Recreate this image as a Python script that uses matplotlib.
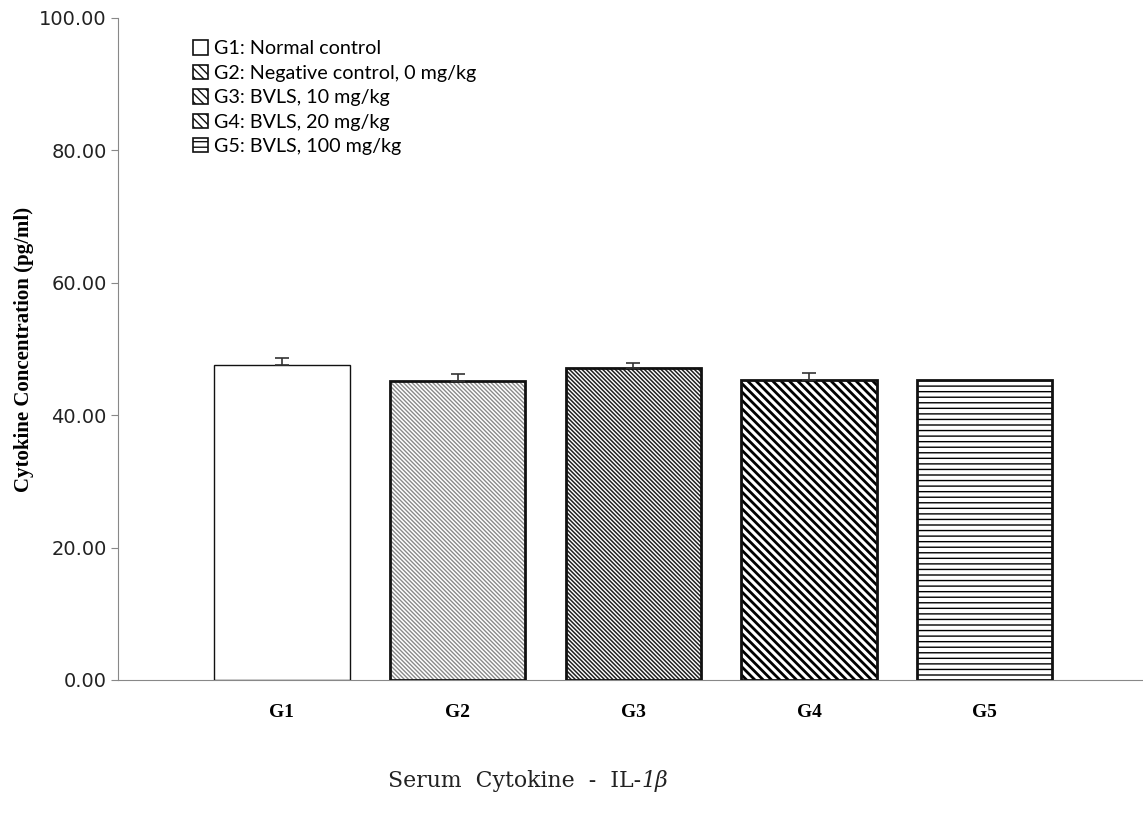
import matplotlib
matplotlib.use('Agg')
import matplotlib.pyplot as plt
from matplotlib.patches import Patch

# Data
groups = ['G1', 'G2', 'G3', 'G4', 'G5']
means = [47.6, 45.2, 47.1, 45.3, 45.3]
errors = [1.0, 1.0, 0.8, 1.1, 0.0]
legend_labels = ['G1: Normal control', 'G2: Negative control, 0 mg/kg',
                 'G3: BVLS, 10 mg/kg', 'G4: BVLS, 20 mg/kg', 'G5: BVLS, 100 mg/kg']
y_ticks = [0, 20, 40, 60, 80, 100]

# Bar styles: (hatch, hatch colour, hatch linewidth, edge width)
styles = [
    ('', '#000000', 1.0, 1.0),
    ('\\' * 8, '#8a8a8a', 1.0, 2.0),
    ('\\' * 8, '#202020', 1.1, 2.0),
    ('\\' * 4, '#000000', 2.0, 2.0),
    ('---', '#000000', 1.0, 2.0),
]


def main():
    fig = plt.figure(figsize=(11.43, 8.24), dpi=100)
    ax = fig.add_axes([0.1032, 0.1748, 0.8968, 0.8034])

    x = list(range(len(groups)))
    for i, (h, hc, hlw, elw) in enumerate(styles):
        with plt.rc_context({'hatch.linewidth': hlw}):
            b = ax.bar(x[i], means[i], width=0.77, color='white', edgecolor=hc,
                       hatch=h, linewidth=0, zorder=2)
        for p in b:
            if hasattr(p, 'set_hatch_linewidth'):
                p.set_hatch_linewidth(hlw)
        ax.bar(x[i], means[i], width=0.77, facecolor='none', edgecolor='#111111',
               linewidth=elw, zorder=3)
        if errors[i] > 0:
            ax.errorbar(x[i], means[i], yerr=[[0], [errors[i]]], fmt='none',
                        ecolor='#333333', elinewidth=1.2, capsize=5, capthick=1.2, zorder=4)

    ax.set_xlim(-0.933, 4.9)
    ax.set_ylim(0, 100)
    ax.set_yticks(y_ticks)
    ax.set_yticklabels([f'{v:.2f}' for v in y_ticks], fontsize=14,
                       family='DejaVu Sans', color='#222222')
    ax.set_xticks(x)
    ax.set_xticklabels(groups, fontsize=14, family='Liberation Serif',
                       fontweight='bold')
    ax.tick_params(axis='x', length=0, pad=17)
    ax.tick_params(axis='y', length=5, color='#888888', direction='out', pad=3)

    for s in ['top', 'right']:
        ax.spines[s].set_visible(False)
    ax.spines['left'].set_color('#888888')
    ax.spines['bottom'].set_color('#888888')

    ax.set_ylabel('Cytokine Concentration (pg/ml)', fontsize=15,
                  family='Liberation Serif', fontweight='bold', labelpad=4)

    handles = []
    for (h, hc, hlw, elw) in styles:
        handles.append(Patch(facecolor='white', edgecolor='#111111',
                             hatch=h[:4] if h else h, linewidth=1.2))
    ax.legend(handles, legend_labels, loc='upper left',
              bbox_to_anchor=(0.056, 0.993), frameon=False,
              prop={'family': 'Lato', 'size': 14.2},
              handlelength=0.75, handleheight=0.75, handletextpad=0.3,
              labelspacing=0.37)

    # bottom caption with italic "1β"
    cx = 0.561
    fig.text(cx, 1 - 781 / 824, 'Serum  Cytokine  -  IL-', ha='right', va='center',
             fontsize=15.8, family='DejaVu Serif', color='#222222')
    fig.text(cx, 1 - 781 / 824, '1β', ha='left', va='center', fontsize=15.8,
             family='DejaVu Serif', style='italic', color='#222222')

    fig.savefig('out.png', dpi=100, facecolor='white')


if __name__ == '__main__':
    main()
